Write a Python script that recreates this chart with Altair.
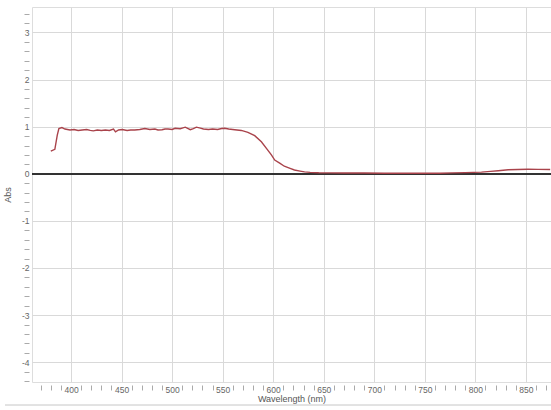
import altair as alt
import pandas as pd

wavelength = [380, 384, 386.4, 388, 391, 394, 399, 403, 407, 411, 415.5, 419, 422, 426, 430, 434,
              438, 442, 444, 447, 450.6, 455.5, 459, 463, 468, 473, 478, 483, 486, 490, 493, 496,
              500, 503, 508, 510, 513, 518, 521, 524, 528, 531, 536, 540, 545, 549, 552, 556,
              562, 568.5, 575, 581.7, 588.3, 593.3, 598.2, 601.5, 606.8, 611, 616.7, 621,
              626.6, 631, 636.5, 645, 656, 670, 690, 710, 730, 750, 765, 777, 790, 806, 815,
              822.6, 832.5, 842, 852, 862, 874]
absorbance = [0.48, 0.52, 0.82, 0.96, 0.98, 0.95, 0.93, 0.94, 0.92, 0.93, 0.94, 0.92, 0.91, 0.93, 0.92, 0.93,
              0.92, 0.95, 0.89, 0.93, 0.94, 0.92, 0.93, 0.93, 0.94, 0.96, 0.94, 0.95, 0.93, 0.935, 0.95, 0.95,
              0.94, 0.965, 0.955, 0.97, 0.99, 0.935, 0.96, 0.99, 0.97, 0.95, 0.94, 0.95, 0.94, 0.96, 0.965, 0.95,
              0.935, 0.92, 0.88, 0.81, 0.68, 0.54, 0.40, 0.29, 0.22, 0.16, 0.115, 0.08,
              0.057, 0.04, 0.03, 0.022, 0.02, 0.017, 0.015, 0.012, 0.01, 0.01, 0.012, 0.02, 0.025, 0.035, 0.05,
              0.065, 0.085, 0.09, 0.095, 0.093, 0.09]

x_ticks = list(range(370, 871, 10))
y_ticks = [round(-4.4 + 0.2 * i, 1) for i in range(40)]

df = pd.DataFrame({"wl": wavelength, "abs": absorbance})

xscale = alt.Scale(domain=[361.4, 874.8], nice=False, zero=False)
yscale = alt.Scale(domain=[-4.42, 3.54], nice=False, zero=False)

font = "Liberation Sans"
is_int = "abs(datum.value - round(datum.value)) < 0.01"

xaxis = alt.Axis(
    values=x_ticks, tickCount=200,
    title="Wavelength (nm)",
    titleFont=font, titleFontSize=9, titleFontWeight="normal", titleColor="#555",
    titlePadding=1,
    labelFont=font, labelFontSize=8.5, labelColor="#666",
    labelExpr="datum.value % 50 === 0 ? format(datum.value, 'd') : ''",
    labelPadding=-5, labelFlush=False, labelOverlap=False,
    offset=3, tickSize=5, tickColor="#aaa",
    tickOpacity={"condition": {"test": "datum.value % 50 === 0", "value": 0}, "value": 1},
    grid=True, gridColor="#d9d9d9",
    gridOpacity={"condition": {"test": "datum.value % 50 === 0", "value": 1}, "value": 0},
    domain=False,
)

yaxis = alt.Axis(
    values=y_ticks, tickCount=200,
    title="Abs",
    titleFont=font, titleFontSize=9, titleFontWeight="normal", titleColor="#555",
    titlePadding=9,
    labelFont=font, labelFontSize=8.5, labelColor="#666",
    labelExpr=is_int + " ? replace(format(round(datum.value), 'd'), '\u2212', '-') : ''",
    labelPadding=-5, labelOverlap=False, labelFlush=False,
    offset=3, tickSize=5, tickColor="#aaa",
    tickOpacity={"condition": {"test": is_int, "value": 0}, "value": 1},
    grid=True, gridColor="#d9d9d9",
    gridOpacity={"condition": {"test": is_int + " && abs(datum.value) > 0.01", "value": 1}, "value": 0},
    domain=False,
)

line = alt.Chart(df).mark_line(color="#a9434b", strokeWidth=1.4).encode(
    x=alt.X("wl:Q", scale=xscale, axis=xaxis),
    y=alt.Y("abs:Q", scale=yscale, axis=yaxis),
)

zero = alt.Chart(df).mark_rule(color="#333", strokeWidth=1.3).encode(
    y=alt.datum(0),
)

bottom = alt.Chart(df).mark_rule(color="#e2e2e2", strokeWidth=1).encode(
    x=alt.value(-27), x2=alt.value(519), y=alt.value(398),
)

chart = alt.layer(zero, line, bottom).properties(
    width=519, height=375,
    padding={"left": 32, "top": 7, "right": 0, "bottom": 28},
    autosize="none",
).configure_view(stroke=None).configure(background="white")

chart.save("out.html", embed_options={"renderer": "svg", "actions": False})
